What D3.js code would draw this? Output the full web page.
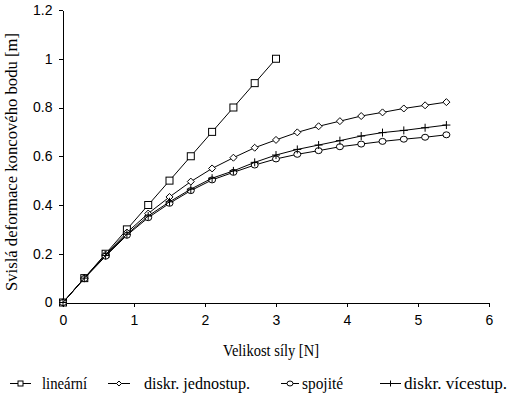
<!DOCTYPE html>
<html><head><meta charset="utf-8">
<script src="https://cdn.jsdelivr.net/npm/d3@7"></script>
<style>body{margin:0;background:#fff}svg{display:block}
.serif{font-family:'Liberation Serif','Times New Roman','DejaVu Serif',serif}
.sans{font-family:'Liberation Sans',Arial,sans-serif}</style>
</head><body>
<script>
const xsLin = [0,0.3,0.6,0.9,1.2,1.5,1.8,2.1,2.4,2.7,3.0];
const linearni = [0,0.1,0.2,0.3,0.4,0.5,0.6,0.7,0.8,0.9,1.0];
const xsAll = [0,0.3,0.6,0.9,1.2,1.5,1.8,2.1,2.4,2.7,3.0,3.3,3.6,3.9,4.2,4.5,4.8,5.1,5.4];
const jednostup = [0,0.1,0.197,0.287,0.365,0.433,0.496,0.55,0.594,0.635,0.667,0.698,0.723,0.744,0.765,0.780,0.796,0.809,0.822];
const spojite = [0,0.098,0.19,0.276,0.348,0.407,0.459,0.503,0.534,0.564,0.589,0.608,0.623,0.639,0.650,0.661,0.670,0.678,0.688];
const vicestup = [0,0.1,0.193,0.28,0.355,0.413,0.465,0.51,0.54,0.575,0.605,0.628,0.646,0.664,0.683,0.697,0.706,0.717,0.728];
const xTicks = [0,1,2,3,4,5,6];
const yTicks = [0,0.2,0.4,0.6,0.8,1,1.2];
const legendLabels = ["lineární","diskr. jednostup.","spojité","diskr. vícestup."];

const W=512,H=398;
const svg=d3.select("body").append("svg").attr("width",W).attr("height",H);
const x=d3.scaleLinear().domain([0,6]).range([63,489]);
const y=d3.scaleLinear().domain([0,1.2]).range([302.5,10]);

svg.append("g").attr("transform","translate(0,302.5)")
  .call(d3.axisBottom(x).tickValues(xTicks).tickFormat(d3.format("d")).tickSizeInner(4).tickSizeOuter(0).tickPadding(9));
svg.append("g").attr("transform","translate(62.5,0)")
  .call(d3.axisLeft(y).tickValues(yTicks).tickFormat(d=>String(d)).tickSizeInner(4).tickSizeOuter(0).tickPadding(6));
svg.selectAll(".domain, .tick line").attr("stroke","#000").attr("shape-rendering","crispEdges");
svg.selectAll(".tick text").attr("class","sans").attr("font-family",null).attr("font-size",14).attr("fill","#000");

svg.append("text").attr("class","serif").attr("x",271).attr("y",356).attr("text-anchor","middle")
  .attr("font-size",16).attr("textLength",96).attr("lengthAdjust","spacingAndGlyphs").text("Velikost síly [N]");
svg.append("text").attr("class","serif").attr("transform","translate(17,162) rotate(-90)").attr("text-anchor","middle")
  .attr("font-size",16).attr("textLength",258).attr("lengthAdjust","spacingAndGlyphs").text("Svislá deformace koncového bodu [m]");

const line=d3.line().x(d=>x(d[0])).y(d=>y(d[1]));
const series=[
  {xs:xsLin, ys:linearni, m:"square"},
  {xs:xsAll, ys:jednostup, m:"diamond"},
  {xs:xsAll, ys:spojite, m:"circle"},
  {xs:xsAll, ys:vicestup, m:"plus"}
];
function marker(g,type,cx,cy){
  if(type==="square") g.append("rect").attr("x",cx-3.5).attr("y",cy-3.5).attr("width",7).attr("height",7).attr("fill","#fff").attr("stroke","#000");
  else if(type==="diamond") g.append("path").attr("d",`M${cx},${cy-3.5}L${cx+3.5},${cy}L${cx},${cy+3.5}L${cx-3.5},${cy}Z`).attr("fill","#fff").attr("stroke","#000");
  else if(type==="circle") g.append("ellipse").attr("cx",cx).attr("cy",cy).attr("rx",3.5).attr("ry",3).attr("fill","#fff").attr("stroke","#000");
  else g.append("path").attr("d",`M${cx-4},${cy}H${cx+4}M${cx},${cy-4}V${cy+4}`).attr("stroke","#000");
}
series.forEach(s=>{
  const pts=s.xs.map((v,i)=>[v,s.ys[i]]);
  svg.append("path").datum(pts).attr("d",line).attr("fill","none").attr("stroke","#000").attr("stroke-width",1);
  const g=svg.append("g");
  pts.forEach(p=>marker(g,s.m,x(p[0]),y(p[1])));
});

// legend
const lg=[{x1:10,x2:31,tx:42,w:45},{x1:108,x2:130,tx:144,w:106},{x1:281,x2:299,tx:302,w:41},{x1:380,x2:401,tx:404,w:103}];
const legMarks=["square","diamond","circle","plus"];
lg.forEach((l,i)=>{
  const g=svg.append("g");
  g.append("line").attr("x1",l.x1).attr("x2",l.x2).attr("y1",383.5).attr("y2",383.5).attr("stroke","#000");
  const cx=(l.x1+l.x2)/2, cy=383.5;
  if(legMarks[i]==="square") g.append("rect").attr("x",cx-2.5).attr("y",cy-2.5).attr("width",5).attr("height",5).attr("fill","#fff").attr("stroke","#000");
  else if(legMarks[i]==="diamond") g.append("path").attr("d",`M${cx},${cy-2.5}L${cx+2.5},${cy}L${cx},${cy+2.5}L${cx-2.5},${cy}Z`).attr("fill","#fff").attr("stroke","#000");
  else if(legMarks[i]==="circle") g.append("ellipse").attr("cx",cx).attr("cy",cy).attr("rx",3).attr("ry",2.5).attr("fill","#fff").attr("stroke","#000");
  else g.append("path").attr("d",`M${cx},${cy-3}V${cy+3}`).attr("stroke","#000");
  g.append("text").attr("class","serif").attr("x",l.tx).attr("y",389).attr("font-size",16)
    .attr("textLength",l.w).attr("lengthAdjust","spacingAndGlyphs").text(legendLabels[i]);
});
</script>
</body></html>
